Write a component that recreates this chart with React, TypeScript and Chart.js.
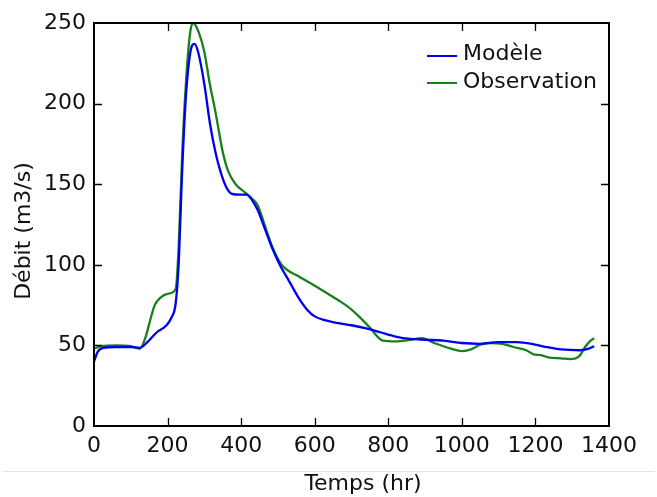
import React, { useEffect, useRef } from "react";
import { Chart, registerables } from "chart.js";

Chart.register(...registerables);

const modelHours = [0, 10, 25, 60, 100, 125, 145, 170, 195, 210, 222, 230, 240, 250, 262, 273, 283, 300, 315, 330, 345, 360, 375, 395, 415, 430, 445, 465, 485, 505, 530, 555, 580, 600, 630, 660, 700, 740, 780, 820, 860, 900, 950, 1000, 1050, 1100, 1150, 1190, 1230, 1270, 1320, 1345, 1360];
const modelFlow = [40, 46, 48.5, 49, 49, 48.5, 52, 58, 62, 67, 76, 100, 160, 205, 232, 237, 232, 212, 188, 170, 157, 148, 144, 143.5, 143.5, 140, 134, 122, 110, 100, 90, 80, 72, 68, 65.5, 64, 62.5, 60.5, 58, 55.5, 54, 53.5, 53, 51.5, 51, 52, 52, 51, 49, 47.5, 47, 48, 49.5];

const obsHours = [0, 20, 60, 100, 125, 140, 152, 165, 180, 200, 222, 230, 240, 252, 262, 270, 285, 300, 315, 330, 350, 365, 385, 410, 430, 445, 465, 485, 510, 555, 600, 650, 690, 720, 750, 785, 820, 860, 890, 930, 970, 1000, 1025, 1050, 1080, 1110, 1140, 1175, 1195, 1215, 1235, 1270, 1295, 1320, 1335, 1350, 1360];
const obsFlow = [48, 49.5, 50, 49.5, 48, 55, 65, 75, 79.5, 82, 85, 110, 170, 220, 245, 250, 244, 232, 212, 195, 170, 158, 150, 145, 141, 137, 124, 111, 100, 93, 87, 80, 74, 68, 61, 53, 52.5, 53.5, 54.5, 51, 48, 46.5, 47.5, 50.5, 51.5, 51, 49, 47, 44.5, 44, 42.5, 42, 41.5, 43.5, 49, 53, 54.5];

const seriesLabels = ["Modèle", "Observation"];
const seriesColors = ["#0000ee", "#1a801a"];
const xTitle = "Temps (hr)";
const yTitle = "Débit (m3/s)";
const xMin = 0, xMax = 1400, xStep = 200;
const yMin = 0, yMax = 250, yStep = 50;

const FONT = "DejaVu Sans";

const framePlugin = {
  id: "frame",
  afterDraw(chart: any) {
    const { ctx, chartArea } = chart;
    const { left, right, top, bottom } = chartArea;
    const xs = chart.scales.x;
    const ys = chart.scales.y;
    ctx.save();
    ctx.strokeStyle = "#e2e2e2";
    ctx.lineWidth = 1;
    ctx.beginPath();
    ctx.moveTo(3, 471.5);
    ctx.lineTo(655, 471.5);
    ctx.stroke();
    ctx.strokeStyle = "#000";
    ctx.lineWidth = 1.3;
    const tl = 8;
    for (let v = xMin + xStep; v < xMax; v += xStep) {
      const px = Math.round(xs.getPixelForValue(v)) + 0.5;
      ctx.beginPath();
      ctx.moveTo(px, bottom);
      ctx.lineTo(px, bottom - tl);
      ctx.moveTo(px, top);
      ctx.lineTo(px, top + tl);
      ctx.stroke();
    }
    for (let v = yMin + yStep; v < yMax; v += yStep) {
      const py = Math.round(ys.getPixelForValue(v)) + 0.5;
      ctx.beginPath();
      ctx.moveTo(left, py);
      ctx.lineTo(left + tl, py);
      ctx.moveTo(right, py);
      ctx.lineTo(right - tl, py);
      ctx.stroke();
    }
    ctx.lineWidth = 2;
    ctx.strokeRect(left, top, right - left, bottom - top);
    ctx.font = `22px '${FONT}'`;
    ctx.textBaseline = "alphabetic";
    ctx.textAlign = "left";
    const rows = [{ ly: 56, ty: 60 }, { ly: 83, ty: 88 }];
    chart.data.datasets.forEach((ds: any, i: number) => {
      ctx.strokeStyle = ds.borderColor;
      ctx.lineWidth = 2;
      ctx.beginPath();
      ctx.moveTo(427, rows[i].ly);
      ctx.lineTo(457, rows[i].ly);
      ctx.stroke();
      ctx.fillStyle = "#111";
      ctx.fillText(ds.label, 463, rows[i].ty);
    });
    ctx.font = `22px '${FONT}'`;
    ctx.fillStyle = "#111";
    ctx.textAlign = "center";
    ctx.textBaseline = "middle";
    ctx.fillText(xTitle, 363, 484);
    ctx.save();
    ctx.translate(24, 231);
    ctx.rotate(-Math.PI / 2);
    ctx.fillText(yTitle, 0, 0);
    ctx.restore();
    ctx.restore();
  },
};

export default function App() {
  const ref = useRef<HTMLCanvasElement>(null);
  useEffect(() => {
    if (!ref.current) return;
    const chart = new Chart(ref.current, {
      type: "line",
      data: {
        datasets: [
          {
            label: seriesLabels[0],
            data: modelHours.map((h, i) => ({ x: h, y: modelFlow[i] })),
            borderColor: seriesColors[0],
            borderWidth: 2.3,
            pointRadius: 0,
            fill: false,
            cubicInterpolationMode: "monotone",
          },
          {
            label: seriesLabels[1],
            data: obsHours.map((h, i) => ({ x: h, y: obsFlow[i] })),
            borderColor: seriesColors[1],
            borderWidth: 2.3,
            pointRadius: 0,
            fill: false,
            cubicInterpolationMode: "monotone",
          },
        ],
      },
      options: {
        responsive: false,
        animation: false,
        layout: { padding: { top: 23, right: 48, left: 0, bottom: 0 } },
        plugins: { legend: { display: false }, tooltip: { enabled: false } },
        scales: {
          x: {
            type: "linear",
            min: xMin,
            max: xMax,
            ticks: {
              stepSize: xStep,
              font: { family: FONT, size: 22 },
              color: "#111",
              padding: 7,
              maxRotation: 0,
              callback: (v: any) => String(v),
            },
            grid: { display: false, drawTicks: false },
            border: { display: false },
            afterFit: (s: any) => {
              s.height = 71;
            },
          },
          y: {
            type: "linear",
            min: yMin,
            max: yMax,
            ticks: {
              stepSize: yStep,
              font: { family: FONT, size: 22 },
              color: "#111",
              padding: 8,
              callback: (v: any) => String(v),
            },
            grid: { display: false, drawTicks: false },
            border: { display: false },
            afterFit: (s: any) => {
              s.width = 94;
            },
          },
        },
      },
      plugins: [framePlugin],
    });
    return () => chart.destroy();
  }, []);
  return (
    <div style={{ position: "fixed", left: 0, top: 0, width: 657, height: 497, background: "#fff" }}>
      <canvas ref={ref} width={657} height={497} style={{ display: "block" }} />
    </div>
  );
}
